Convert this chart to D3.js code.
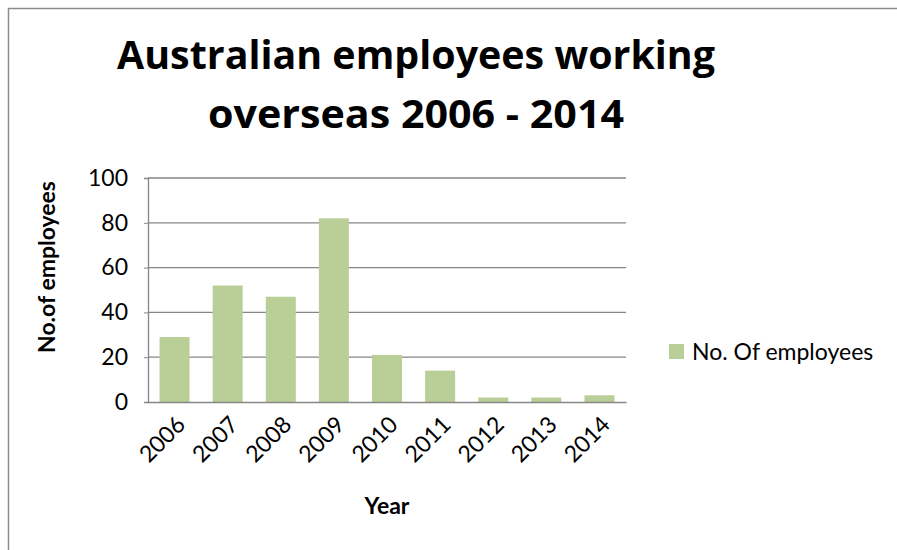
<!DOCTYPE html>
<html>
<head>
<meta charset="utf-8">
<script src="https://cdn.jsdelivr.net/npm/d3@7"></script>
<style>
  html, body { margin: 0; background: #fff; overflow: hidden; }
  svg { display: block; font-family: Lato, "Open Sans", sans-serif; }
</style>
</head>
<body>
<div id="chart"></div>
<script>
// data
var years = ["2006", "2007", "2008", "2009", "2010", "2011", "2012", "2013", "2014"];
var employees = [29, 52, 47, 82, 21, 14, 2, 2, 3];
var yTicks = [0, 20, 40, 60, 80, 100];
var seriesName = "No. Of employees";

var W = 897, H = 550;
var plot = {left: 148, right: 626, top: 178, bottom: 402};

var svg = d3.select("#chart")
  .append("svg")
    .attr("width", W)
    .attr("height", H);

// chart frame (only top and left edges show in the picture)
svg.append("path")
  .attr("d", "M8.5," + H + "V8.5H" + W)
  .attr("fill", "none")
  .attr("stroke", "#8c8c8c")
  .attr("stroke-width", 1.5);

// title
svg.append("text")
  .attr("x", 416).attr("y", 69)
  .attr("text-anchor", "middle")
  .style("font-family", "'Open Sans', sans-serif")
  .attr("font-size", 40).attr("font-weight", "bold")
  .attr("textLength", 598).attr("lengthAdjust", "spacingAndGlyphs")
  .text("Australian employees working");
svg.append("text")
  .attr("x", 416).attr("y", 128)
  .attr("text-anchor", "middle")
  .style("font-family", "'Open Sans', sans-serif")
  .attr("font-size", 40).attr("font-weight", "bold")
  .attr("textLength", 416).attr("lengthAdjust", "spacingAndGlyphs")
  .text("overseas 2006 - 2014");

// scales
var x = d3.scaleBand()
  .domain(years)
  .range([plot.left, plot.right])
  .paddingInner(0.435)
  .paddingOuter(0.2175);

var y = d3.scaleLinear()
  .domain([0, 100])
  .range([plot.bottom, plot.top]);

// gridlines
svg.append("g")
  .selectAll("line")
  .data(yTicks.filter(function(d) { return d > 0; }))
  .enter().append("line")
    .attr("x1", plot.left).attr("x2", plot.right)
    .attr("y1", function(d) { return y(d); })
    .attr("y2", function(d) { return y(d); })
    .attr("stroke", "#868686")
    .attr("stroke-width", 1.3);

// bars
svg.append("g")
  .selectAll("rect")
  .data(employees)
  .enter().append("rect")
    .attr("x", function(d, i) { return x(years[i]); })
    .attr("y", function(d) { return y(d); })
    .attr("width", x.bandwidth())
    .attr("height", function(d) { return y(0) - y(d); })
    .attr("fill", "#bacf97");

// y axis
var yAxis = svg.append("g")
  .attr("transform", "translate(" + plot.left + ",0)")
  .call(d3.axisLeft(y).tickValues(yTicks).tickSize(4).tickPadding(16));
yAxis.select(".domain").attr("stroke", "#868686").attr("stroke-width", 1.3);
yAxis.selectAll(".tick line").attr("stroke", "#868686");
yAxis.selectAll(".tick text")
  .attr("font-size", 23)
  .attr("font-family", null)
  .attr("fill", "#000");

// x axis
var xAxis = svg.append("g")
  .attr("transform", "translate(0," + plot.bottom + ")")
  .call(d3.axisBottom(x).tickSize(0).tickSizeOuter(0));
xAxis.select(".domain").attr("stroke", "#868686").attr("stroke-width", 1.3);
xAxis.selectAll(".tick text")
  .attr("font-size", 23)
  .attr("font-family", null)
  .attr("fill", "#000")
  .attr("text-anchor", "end")
  .attr("dy", 0)
  .attr("transform", "translate(10,22) rotate(-45)");
yAxis.attr("font-family", null);
xAxis.attr("font-family", null);

// axis titles
svg.append("text")
  .attr("transform", "translate(55,267) rotate(-90)")
  .attr("text-anchor", "middle")
  .attr("font-size", 23).attr("font-weight", "bold")
  .text("No.of employees");

svg.append("text")
  .attr("x", 387).attr("y", 514)
  .attr("text-anchor", "middle")
  .attr("font-size", 23).attr("font-weight", "bold")
  .text("Year");

// legend
var legend = svg.append("g").attr("transform", "translate(669,344)");
legend.append("rect")
  .attr("width", 15).attr("height", 15)
  .attr("fill", "#bacf97");
legend.append("text")
  .attr("x", 23).attr("y", 16)
  .attr("font-size", 23)
  .text(seriesName);
</script>
</body>
</html>
